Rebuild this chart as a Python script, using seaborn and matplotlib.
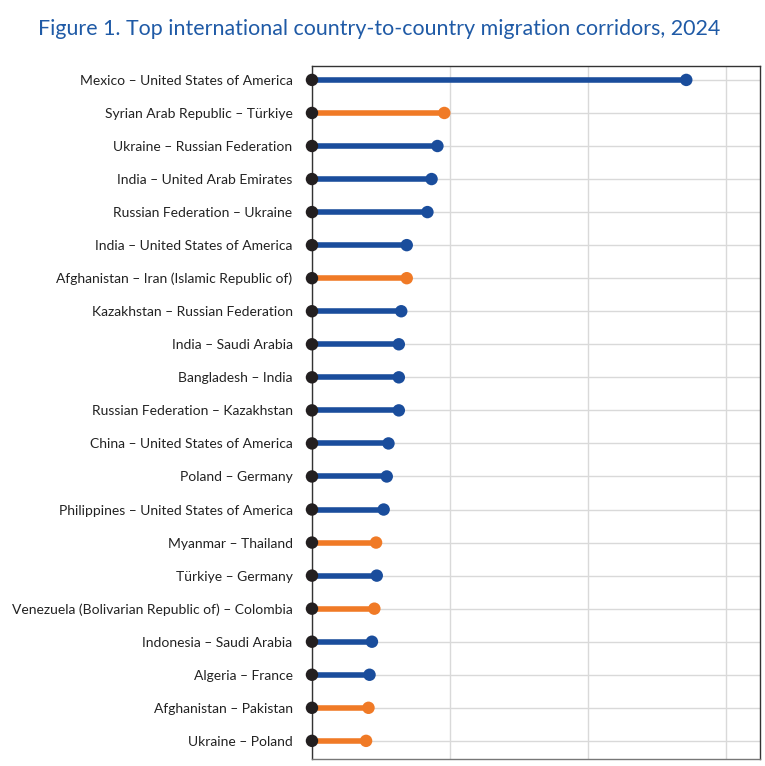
import numpy as np
import pandas as pd
import seaborn as sns
import matplotlib.pyplot as plt

# коридоры миграции (млн человек, оценка по рисунку)
corridors = [
    'Mexico – United States of America',
    'Syrian Arab Republic – Türkiye',
    'Ukraine – Russian Federation',
    'India – United Arab Emirates',
    'Russian Federation – Ukraine',
    'India – United States of America',
    'Afghanistan – Iran (Islamic Republic of)',
    'Kazakhstan – Russian Federation',
    'India – Saudi Arabia',
    'Bangladesh – India',
    'Russian Federation – Kazakhstan',
    'China – United States of America',
    'Poland – Germany',
    'Philippines – United States of America',
    'Myanmar – Thailand',
    'Türkiye – Germany',
    'Venezuela (Bolivarian Republic of) – Colombia',
    'Indonesia – Saudi Arabia',
    'Algeria – France',
    'Afghanistan – Pakistan',
    'Ukraine – Poland',
]
migrants = [10.86, 3.84, 3.64, 3.47, 3.35, 2.75, 2.75, 2.59, 2.52, 2.52, 2.52,
            2.22, 2.17, 2.08, 1.86, 1.88, 1.81, 1.74, 1.67, 1.64, 1.57]
group = ['migrant', 'refugee', 'migrant', 'migrant', 'migrant', 'migrant', 'refugee',
         'migrant', 'migrant', 'migrant', 'migrant', 'migrant', 'migrant', 'migrant',
         'refugee', 'migrant', 'refugee', 'migrant', 'migrant', 'refugee', 'refugee']

df = pd.DataFrame({'corridor': corridors, 'value': migrants, 'group': group})
df['pos'] = np.arange(len(df))

palette = {'migrant': '#1a4d9c', 'refugee': '#f07a26'}

sns.set_theme(style='whitegrid')
plt.rcParams['font.family'] = ['Lato', 'DejaVu Sans']

fig = plt.figure(figsize=(7.65, 7.66), dpi=100)
ax = fig.add_axes([0.4078, 0.0091, 0.5857, 0.9047])

# линии от нуля до значения
ax.hlines(df['pos'], 0, df['value'], colors=df['group'].map(palette), lw=4, zorder=2)
# точки на концах
sns.scatterplot(data=df, x='value', y='pos', hue='group', palette=palette, s=80,
                edgecolor='none', legend=False, zorder=3, ax=ax)
sns.scatterplot(x=np.zeros(len(df)), y=df['pos'], color='#231f20', s=80,
                edgecolor='none', zorder=4, ax=ax, clip_on=False)

ax.set_xlim(0, 13)
ax.set_ylim(len(df) - 0.45, -0.42)
ax.set_xticks([0, 4, 8, 12])
ax.set_xticklabels([])
ax.set_yticks(df['pos'])
ax.set_yticklabels(df['corridor'], fontsize=10, color='#222222')
ax.tick_params(axis='y', pad=14, length=0)
ax.tick_params(axis='x', length=0)
ax.set_xlabel('')
ax.set_ylabel('')
ax.grid(True, color='#d9d9d9', lw=1)
for side in ['top', 'right', 'bottom', 'left']:
    ax.spines[side].set_visible(True)
    ax.spines[side].set_color('#333333')
    ax.spines[side].set_linewidth(1)
ax.spines['bottom'].set_color('#777777')

fig.text(0.05, 0.962, 'Figure 1. Top international country-to-country migration corridors, 2024',
         fontsize=15.4, color='#1f5aa6', va='center', ha='left')

plt.savefig('out.png', dpi=100)
